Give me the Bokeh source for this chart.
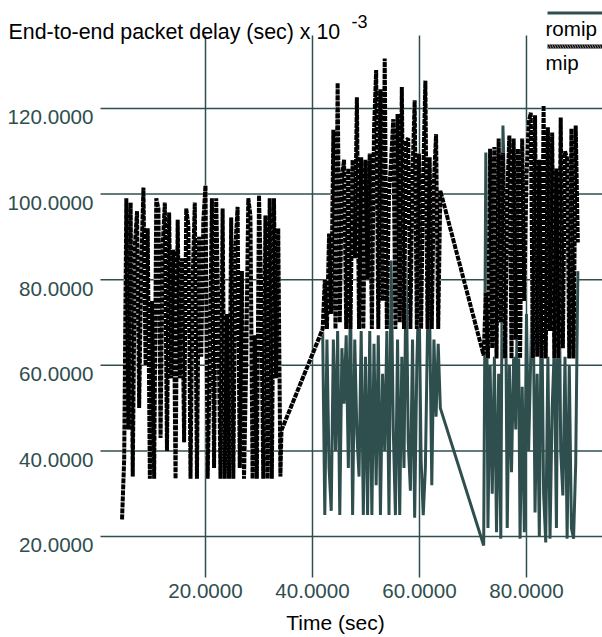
from bokeh.plotting import figure
from bokeh.models import Range1d, Label, BoxAnnotation, ColumnDataSource
from bokeh.core.properties import value
from bokeh.embed import file_html
from bokeh.resources import INLINE

# ---------------- data ----------------
T1 = [4.4, 4.8, 5.2, 5.6, 6.0, 6.4, 6.8, 7.2, 7.6, 8.0, 8.4, 8.8, 9.2, 9.6, 10.0,
      10.4, 10.8, 11.2, 11.6, 12.0, 12.4, 12.8, 13.2, 13.6, 14.0, 14.4, 14.8, 15.2,
      15.6, 16.0, 16.4, 16.8, 17.2, 17.6, 18.0, 18.4, 18.8, 19.2, 19.6, 20.0, 20.4,
      20.8, 21.2, 21.6, 22.0, 22.4, 22.8, 23.2, 23.6, 24.0, 24.4, 24.8, 25.2, 25.6,
      26.0, 26.4, 26.8, 27.2, 27.6, 28.0, 28.4, 28.8, 29.2, 29.6, 30.0, 30.4, 30.8,
      31.2, 31.6, 32.0, 32.4, 32.8, 33.2, 33.6, 34.0, 34.2]
MIP1 = [24, 38, 99, 45, 98, 34, 88, 96, 50, 84,
        101.5, 60, 92, 33.5, 75, 33.5, 99, 96.6, 43, 88,
        98, 40, 95.7, 57, 87, 33.5, 94, 57, 85, 42,
        96.6, 92.7, 33.5, 80, 98, 33.5, 90, 62, 94, 102,
        33.5, 60, 99, 36, 99, 72, 33.5, 96.6, 33.5, 72,
        33.5, 94.5, 33.5, 88, 97, 36, 82, 33.5, 60, 99,
        95, 33.5, 67, 33.5, 99.7, 78, 33.5, 95, 33.5, 99,
        33.5, 99, 57, 92, 34, 44.8]
ROMIP1 = [24, 38, 99, 45, 98, 34, 88, 96, 50, 84,
          101.5, 60, 92, 33.5, 75, 33.5, 99, 96.6, 43, 88,
          98, 40, 95.7, 57, 87, 33.5, 94, 57, 85, 42,
          96.6, 92.7, 33.5, 80, 98, 33.5, 90, 62, 94, 102,
          33.5, 60, 99, 36, 99, 72, 33.5, 96.6, 33.5, 72,
          33.5, 94.5, 33.5, 88, 97, 36, 82, 33.5, 60, 99,
          95, 33.5, 67, 33.5, 99.7, 78, 33.5, 95, 33.5, 99,
          33.5, 99, 57, 92, 34, 44.8]

T2 = [41.9, 42.3, 42.7, 43.1, 43.5, 43.9, 44.3, 44.7, 45.1, 45.5, 45.9, 46.3, 46.7,
      47.1, 47.5, 47.9, 48.3, 48.7, 49.1, 49.5, 49.9, 50.3, 50.7, 51.1, 51.5, 51.9,
      52.3, 52.7, 53.1, 53.5, 53.9, 54.3, 54.7, 55.1, 55.5, 55.9, 56.3, 56.7, 57.1,
      57.5, 57.9, 58.3, 58.7, 59.1, 59.5, 59.9, 60.3, 60.7, 61.1, 61.5, 61.9, 62.3,
      62.7, 63.1, 63.5, 63.9]
MIP2 = [68.5, 80, 68.5, 90.8, 72, 115, 68.5, 126, 70, 104,
        108, 68.5, 106, 68.5, 108, 85, 122.6, 68.5, 108.6, 68.5,
        108, 80, 109.5, 68.5, 115, 129, 68.5, 124.5, 75, 131.7,
        68.5, 100, 108, 117.5, 68.5, 118.7, 70, 125, 68.5, 112.5,
        113, 68.5, 105, 121.9, 68.5, 109.5, 68.5, 104, 126.5, 68.5,
        108.6, 68.5, 103, 114, 68.5, 100.8]
ROMIP2 = [68, 25, 66, 36, 26, 66, 40, 68, 25, 64,
          51, 67, 36, 77, 25, 66, 44, 34, 68, 25,
          62, 25, 68, 25, 65, 32, 67, 25, 58, 40,
          68, 25, 84.5, 45, 25, 66, 25, 62, 36, 84.5,
          42, 30.7, 66, 24.4, 60, 79, 38, 25, 36, 68,
          72, 32, 66, 48, 65, 50]

T3 = [72.0, 72.4, 72.8, 73.2, 73.6, 74.0, 74.4, 74.8, 75.2, 75.6, 76.0, 76.4, 76.8,
      77.2, 77.6, 78.0, 78.4, 78.8, 79.2, 79.6, 80.0, 80.4, 80.8, 81.2, 81.6, 82.0,
      82.4, 82.8, 83.2, 83.6, 84.0, 84.4, 84.8, 85.2, 85.6, 86.0, 86.4, 86.8, 87.2,
      87.6, 88.0, 88.4, 88.8, 89.2, 89.6]
MIP3 = [62.3, 77, 61.6, 110.6, 64, 111, 61.6, 113, 70, 109.7,
        61.6, 100, 113.7, 61.6, 113, 66, 110.6, 61.6, 113, 75,
        104, 116.7, 119, 61.6, 118.4, 62, 108, 61.6, 120.7, 61.6,
        115.6, 68, 114.4, 61.6, 106, 61.6, 117.9, 64, 110, 108.3,
        61.6, 115.3, 61.6, 116, 88.7]
ROMIP3 = [17.9, 109.7, 22, 60, 30, 62, 21, 58, 19.5, 116,
          95.7, 22, 60, 35, 62, 45, 85.6, 19.5, 55, 21,
          72, 40, 62, 83, 25.6, 58, 20, 81, 30, 18.6,
          62, 19.5, 50, 64, 22, 98, 40, 29.6, 62, 19.5,
          60, 22, 19.5, 37, 82]

X_TICKS = [20, 40, 60, 80]
Y_TICKS = [20, 40, 60, 80, 100, 120]
SERIES_NAMES = ["romip", "mip"]
TITLE = "End-to-end packet delay (sec) x 10"
TITLE_EXP = "-3"
X_LABEL = "Time (sec)"

# ---------------- layout / styling ----------------
TEAL = "#2f4f4f"
FONT = "Liberation Sans"
W, H = 602, 637
X_RANGE = (-18.32, 94.21)     # data range covered by the whole canvas
Y_RANGE = (-3.6, 145.23)
SX = W / (X_RANGE[1] - X_RANGE[0])   # px per data unit
SY = H / (Y_RANGE[1] - Y_RANGE[0])


def dx(px):
    return X_RANGE[0] + px / SX


def dy(py):
    return Y_RANGE[1] - py / SY


PLOT_LEFT, PLOT_RIGHT, PLOT_TOP, PLOT_BOTTOM = dx(100), dx(602), dy(35), dy(577)

t_all = T1 + T2 + T3
mip = MIP1 + MIP2 + MIP3
romip = ROMIP1 + ROMIP2 + ROMIP3

p = figure(width=W, height=H, output_backend="svg", toolbar_location=None,
           x_range=Range1d(*X_RANGE), y_range=Range1d(*Y_RANGE),
           x_axis_location=None, y_axis_location=None, min_border=0)
p.outline_line_color = None
p.xgrid.visible = False
p.ygrid.visible = False
p.background_fill_color = "white"
p.border_fill_color = "white"

# grid lines
p.segment(x0=[PLOT_LEFT] * len(Y_TICKS), x1=[PLOT_RIGHT] * len(Y_TICKS),
          y0=Y_TICKS, y1=Y_TICKS, line_color=TEAL, line_width=1.5)
p.segment(x0=X_TICKS, x1=X_TICKS, y0=[PLOT_BOTTOM] * len(X_TICKS),
          y1=[PLOT_TOP] * len(X_TICKS), line_color=TEAL, line_width=1.5)

# tick labels
ylab = ColumnDataSource(dict(x=[dx(93)] * len(Y_TICKS),
                             y=[v - 9 / SY for v in Y_TICKS],
                             text=["%.4f" % v for v in Y_TICKS]))
p.text(x="x", y="y", text="text", source=ylab, text_align="right",
       text_baseline="middle", text_font=value(FONT), text_font_size="20.6px",
       text_color=TEAL)
xlab = ColumnDataSource(dict(x=X_TICKS, y=[dy(590)] * len(X_TICKS),
                             text=["%.4f" % v for v in X_TICKS]))
p.text(x="x", y="y", text="text", source=xlab, text_align="center",
       text_baseline="middle", text_font=value(FONT), text_font_size="20.6px",
       text_color=TEAL)

# series
p.line(t_all, romip, line_color=TEAL, line_width=3)
p.line(t_all, mip, line_color="white", line_width=4)
p.line(t_all, mip, line_color="black", line_width=4, line_dash="5 1")


# title, axis label and legend
def lab(x, y, text, size="20.6px", align="left", baseline="alphabetic"):
    p.add_layout(Label(x=x, y=y, x_units="canvas", y_units="canvas", text=text,
                       text_font=FONT, text_font_size=size, text_color="black",
                       text_align=align, text_baseline=baseline))


lab(8, 31, TITLE, size="21.4px")
lab(351, 21, TITLE_EXP, size="18px")
lab(335, 622, X_LABEL, size="21px", align="center", baseline="middle")
lab(545, 28, SERIES_NAMES[0], baseline="middle")
lab(545, 62, SERIES_NAMES[1], baseline="middle")

b1 = BoxAnnotation(left=547, right=602, top=11, bottom=14,
                   left_units="canvas", right_units="canvas",
                   top_units="canvas", bottom_units="canvas",
                   fill_color=TEAL, fill_alpha=1, line_color=None)
b2 = BoxAnnotation(left=547, right=602, top=44, bottom=48,
                   left_units="canvas", right_units="canvas",
                   top_units="canvas", bottom_units="canvas",
                   fill_color="black", fill_alpha=1, line_color=None,
                   hatch_pattern="\\", hatch_color="#bbbbbb", hatch_scale=5,
                   hatch_weight=0.8)
p.add_layout(b1)
p.add_layout(b2)

open("out.html", "w").write(file_html(p, INLINE))
